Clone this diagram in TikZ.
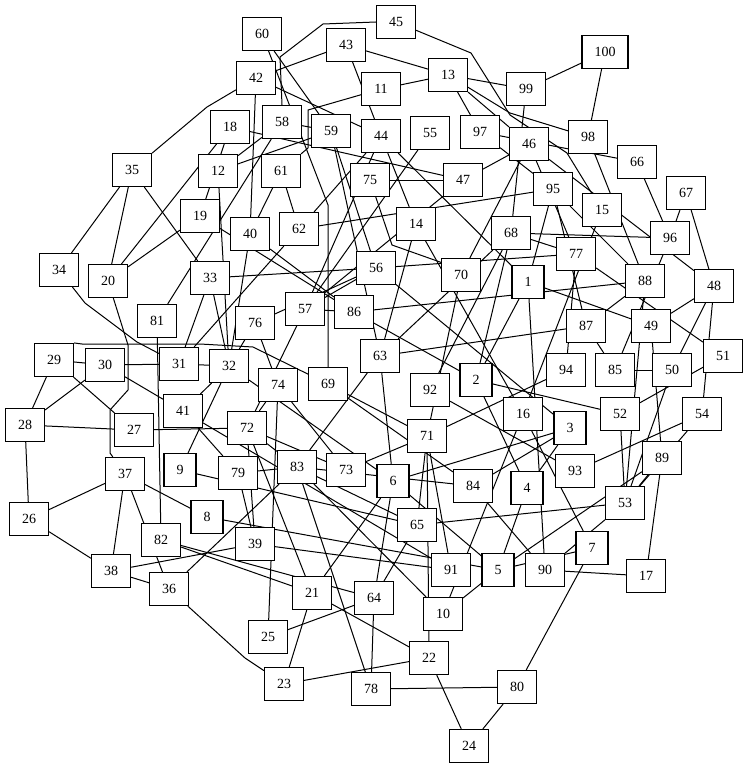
\documentclass[tikz,border=0pt]{standalone}
\usepackage{fontspec}
\setmainfont{Liberation Serif}
\usetikzlibrary{backgrounds}
\begin{document}
\begin{tikzpicture}[x=1pt,y=-1pt,
  nd/.style={draw,line width=1.1pt,fill=white,minimum height=33pt,minimum width=32pt,inner xsep=12.5pt,inner ysep=0pt,font=\fontsize{14}{16}\selectfont},
  ed/.style={line width=1pt,black}]
\useasboundingbox (0,0) rectangle (748,768);
\foreach \n/\x/\y in {1/528/282,2/476/380,3/570/428,4/527/488,5/498/570,6/393/481,7/592/548,8/207/517,9/180/470,10/443/614,
11/381/89,12/218/171,13/448/75,14/416/224,15/602/210,16/523/414,17/646/576,18/230/127,19/200/216,20/108/281,
21/312/593,22/429/658,23/284/684,24/469/746,25/268/637,26/29/519,27/134/430,28/25/425,29/54/360,30/105/365,
31/179/364,32/229/366,33/210/278,34/59/270,35/132/170,36/169/589,37/125/474,38/111/571,39/255/544,40/250/234,
41/183/411,42/256/78,43/346/45,44/381/136,45/396/22,46/529/144,47/463/180,48/714/286,49/651/326,50/672/370,
51/723/356,52/620/414,53/625/503,54/702/414,55/430/133,56/376/268,57/305/309,58/282/122,59/331/131,60/262/34,
61/281/171,62/299/229,63/380/356,64/374/598,65/417/525,66/637/162,67/686/193,68/511/233,69/328/384,70/461/275,
71/427/436,72/247/428,73/346/470,74/278/385,75/370/180,76/255/323,77/576/254,78/371/689,79/238/473,80/517/687,
81/157/321,82/161/540,83/297/467,84/473/486,85/615/370,86/354/312,87/586/326,88/645/281,89/662/458,90/545/570,
91/451/570,92/430/390,93/575/471,94/566/370,95/553/189,96/670/238,97/480/132,98/588/137,99/526/89,100/605/52}
  \node[nd] (n\n) at (\x,\y) {\n};
\begin{pgfonlayer}{background}
\foreach \a/\b in {42/40,42/43,42/44,43/13,43/44,13/46,13/99,99/100,100/98,11/13,
60/59,59/56,58/59,12/58,12/59,58/81,44/62,44/14,44/57,44/1,61/62,61/40,18/19,18/20,18/47,35/34,35/20,35/33,
46/47,97/66,98/88,95/88,46/48,66/96,67/96,67/48,99/68,13/97,97/95,46/70,46/77,75/47,55/57,47/57,62/31,62/95,
33/56,56/57,56/77,56/3,56/76,19/20,19/86,40/86,12/32,40/32,57/86,57/72,59/63,14/63,14/16,68/96,68/77,68/2,68/63,
92/68,1/95,1/2,1/90,1/49,15/16,96/85,95/87,86/88,86/2,63/87,63/83,63/6,70/71,2/52,2/4,92/93,69/71,71/73,71/91,
71/94,6/3,84/3,16/10,16/7,93/54,3/4,52/53,52/51,89/53,53/65,53/54,53/90,50/53,49/89,89/5,48/50,48/54,50/85,87/85,
49/48,77/94,77/51,88/87,88/53,29/28,30/28,29/27,28/27,28/26,26/37,26/38,37/38,37/36,37/8,38/39,38/36,27/72,
81/82,41/32,41/79,41/91,9/32,9/65,8/5,72/73,72/83,74/25,72/21,83/78,79/39,36/83,82/21,82/64,74/73,74/76,74/72,
76/32,29/30,30/31,31/32,33/31,33/32,6/21,6/64,6/5,32/6,84/83,84/90,69/84,71/65,65/64,83/65,79/83,
83/10,39/91,72/39,21/22,21/23,64/25,64/78,23/22,22/24,22/71,10/5,4/5,90/17,5/7,7/80,89/17,80/78,80/24,30/41}
  \draw[ed] (n\a) -- (n\b);
% routed connectors
\draw[ed] (n42) -- (207,107) -- (n35);
\draw[ed] (n45.west) -- (323,24) -- (280,57) -- (n58.north);
\draw[ed] (n45) -- (471,53) -- (510,115) -- (567,153) -- (n15);
\draw[ed] (n13) -- (510,113) -- (n98);
\draw[ed] (n34) -- (85,303) -- (137,342) -- (n31);
\draw[ed] (n29.north east) -- (82,344) -- (200,344) -- (253,347) -- (n69);
\draw[ed] (n20) -- (128,345) -- (128,390) -- (110,410) -- (110,453) -- (n37);
\draw[ed] (n60) -- (328,205) -- (n69);
\draw[ed] (n75) -- (392,245) -- (440,262) -- (n70);
\draw[ed] (n36) -- (245,658) -- (n23);
\draw[ed] (n11) -- (308,110) -- (308,148) -- (n61);
\end{pgfonlayer}
\end{tikzpicture}
\end{document}
